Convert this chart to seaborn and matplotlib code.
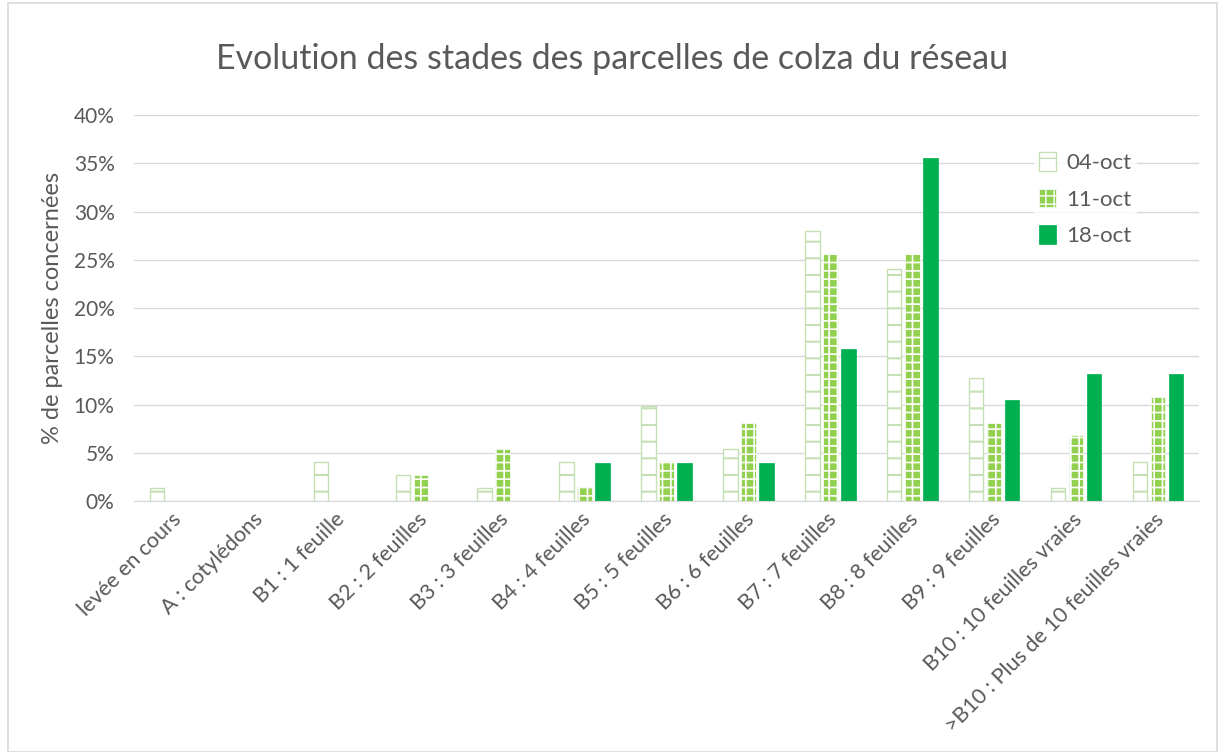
import matplotlib
matplotlib.use('Agg')
import matplotlib.pyplot as plt
import seaborn as sns
import pandas as pd
from matplotlib.ticker import PercentFormatter
from matplotlib.patches import Rectangle, Patch
from matplotlib.transforms import ScaledTranslation

# Data (% of plots per stage)
stages = ['levée en cours', 'A : cotylédons', 'B1 : 1 feuille', 'B2 : 2 feuilles',
          'B3 : 3 feuilles', 'B4 : 4 feuilles', 'B5 : 5 feuilles', 'B6 : 6 feuilles',
          'B7 : 7 feuilles', 'B8 : 8 feuilles', 'B9 : 9 feuilles',
          'B10 : 10 feuilles vraies', '>B10 : Plus de 10 feuilles vraies']
dates = ['04-oct', '11-oct', '18-oct']
oct04 = [1.3, 0, 4.0, 2.7, 1.3, 4.0, 9.8, 5.4, 28.0, 24.0, 12.7, 1.3, 4.0]
oct11 = [0, 0, 0, 2.7, 5.4, 1.4, 4.1, 8.1, 25.7, 25.7, 8.1, 6.8, 10.8]
oct18 = [0, 0, 0, 0, 0, 3.9, 3.9, 3.9, 15.8, 35.5, 10.5, 13.2, 13.2]

df = pd.DataFrame({
    'stade': stages * 3,
    'date': [d for d in dates for _ in stages],
    'pct': oct04 + oct11 + oct18,
})

sns.set_style('white')
plt.rcParams['font.family'] = ['Lato', 'DejaVu Sans']
grey = '#595959'

fig = plt.figure(figsize=(12.24, 7.52), dpi=100)
ax = fig.add_axes([0.1095, 0.3338, 0.8701, 0.5132])

sns.barplot(data=df, x='stade', y='pct', hue='date', order=stages, hue_order=dates,
            palette=['#c5e0b4', '#92d050', '#00b050'], width=0.66, gap=0.2,
            saturation=1, ax=ax, legend=False)

# pattern fills to mimic the Excel chart
styles = [
    dict(face='white', edge='#c5e0b4', hatch='-', hlw=1.5, lw=1.0),
    dict(face='#92d050', edge='white', hatch='++', hlw=1.2, lw=0.5),
    dict(face='#00b050', edge='#00b050', hatch=None, hlw=1.0, lw=0.5),
]


def style_patch(p, st):
    p.set_facecolor(st['face'])
    p.set_edgecolor(st['edge'])
    p.set_linewidth(st['lw'])
    if st['hatch']:
        p.set_hatch(st['hatch'])
        if hasattr(p, 'set_hatch_linewidth'):
            p.set_hatch_linewidth(st['hlw'])
        else:
            p._hatch_linewidth = st['hlw']


for cont, st in zip(ax.containers, styles):
    for bar in cont:
        style_patch(bar, st)
        if bar.get_height() == 0:
            bar.set_visible(False)

ax.set_ylim(0, 40)
ax.set_yticks(range(0, 41, 5))
ax.yaxis.set_major_formatter(PercentFormatter(decimals=0))
ax.set_xlim(-0.5, len(stages) - 0.5)
ax.grid(axis='y', color='#d9d9d9', linewidth=1)
ax.set_axisbelow(True)
for s in ['left', 'right', 'top']:
    ax.spines[s].set_visible(False)
ax.spines['bottom'].set_color('#d9d9d9')
ax.tick_params(axis='both', length=0, colors=grey)
ax.tick_params(axis='y', pad=14, labelsize=15)
ax.tick_params(axis='x', pad=6, labelsize=15.5)
shift = ScaledTranslation(-4 / 100, 0, fig.dpi_scale_trans)
for lab in ax.get_xticklabels():
    lab.set_rotation(45)
    lab.set_ha('right')
    lab.set_rotation_mode('anchor')
    lab.set_transform(lab.get_transform() + shift)
ax.set_xlabel('')
ax.set_ylabel('% de parcelles concernées', fontsize=17, color=grey, labelpad=8)

fig.suptitle('Evolution des stades des parcelles de colza du réseau', fontsize=24.5,
             color=grey, y=0.943)

handles = []
for st in styles:
    h = Patch(label='x')
    style_patch(h, st)
    handles.append(h)
leg = ax.legend(handles=handles, labels=dates,
                loc='upper left', bbox_to_anchor=(0.835, 0.944), frameon=True,
                fontsize=16, handlelength=0.75, handleheight=0.9,
                labelspacing=0.7, handletextpad=0.5, borderpad=0.2)
leg.get_frame().set_facecolor('white')
leg.get_frame().set_edgecolor('white')
for t in leg.get_texts():
    t.set_color(grey)

fig.patches.append(Rectangle((8 / 1224, 0), 1209 / 1224, 1 - 3 / 752,
                             transform=fig.transFigure, fill=False,
                             edgecolor='#d9d9d9', linewidth=1.2))

fig.savefig('out.png', dpi=100)
